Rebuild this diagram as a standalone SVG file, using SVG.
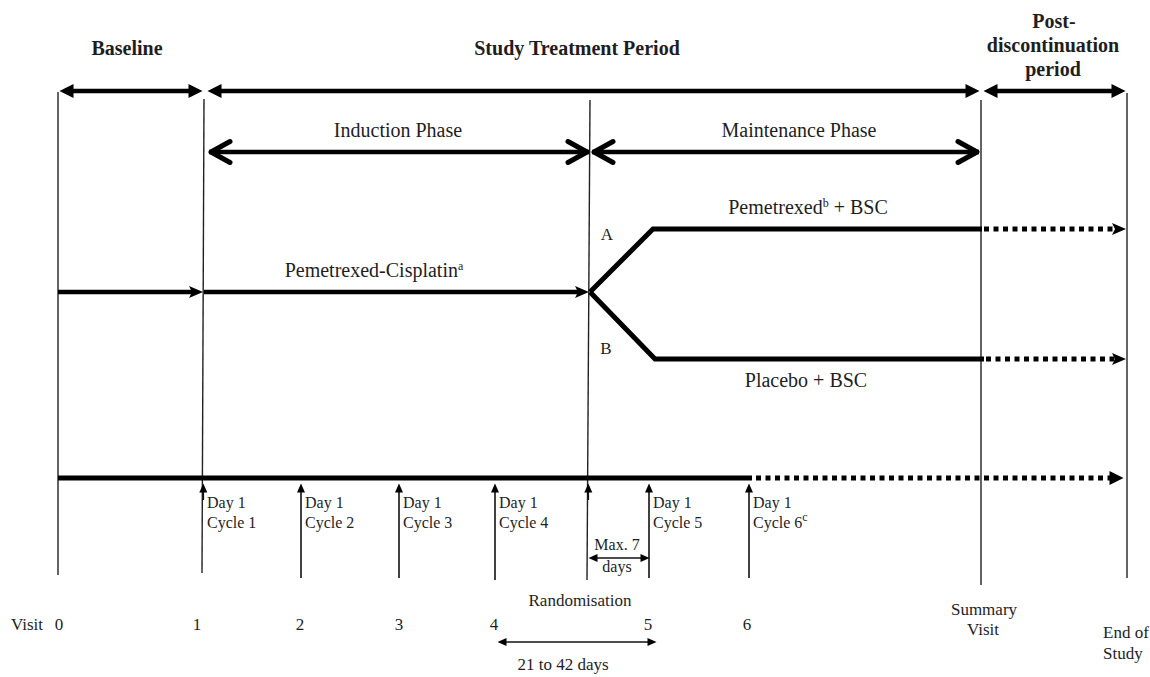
<svg xmlns="http://www.w3.org/2000/svg" width="1150" height="677" viewBox="0 0 1150 677">
<style>
text{font-family:"Liberation Serif","Times New Roman",serif;fill:#1e1e1e}
.h{font-size:20px;font-weight:bold;text-anchor:middle}
.l{font-size:20px;text-anchor:middle}
.s{font-size:16px}
.m{font-size:17px;text-anchor:middle}
.ms{font-size:17px;text-anchor:start}
.sup{font-size:12px}
.v{stroke:#222;stroke-width:1.4;fill:none}
.thick{stroke:#000;stroke-width:4.5;fill:none}
.br{stroke:#000;stroke-width:5;fill:none;stroke-linejoin:miter}
.dot{stroke:#000;stroke-width:5;fill:none;stroke-dasharray:5 4.5}
.thin{stroke:#111;stroke-width:1.6;fill:none}
</style>
<defs>
<marker id="hd" viewBox="0 -7 14 14" markerWidth="14" markerHeight="14" refX="0.5" refY="0" orient="auto-start-reverse" markerUnits="userSpaceOnUse" overflow="visible"><path d="M0,-7 L14,0 L0,7 z" fill="#000"/></marker>
<marker id="chev" viewBox="-24 -14 28 28" markerWidth="28" markerHeight="28" refX="0" refY="0" orient="auto-start-reverse" markerUnits="userSpaceOnUse" overflow="visible"><path d="M-21,-10.5 L-2,0 L-21,10.5" fill="none" stroke="#000" stroke-width="5" stroke-linejoin="round" stroke-linecap="round"/></marker>
<marker id="st" viewBox="-4 -7 16 14" markerWidth="16" markerHeight="14" refX="0" refY="0" orient="auto" markerUnits="userSpaceOnUse" overflow="visible"><path d="M11,0 L-3,-6 L0,0 L-3,6 z" fill="#000"/></marker>
<marker id="sm" viewBox="0 -5 10 10" markerWidth="10" markerHeight="10" refX="0.5" refY="0" orient="auto-start-reverse" markerUnits="userSpaceOnUse" overflow="visible"><path d="M0,-4 L9,0 L0,4 z" fill="#000"/></marker>
</defs>

<g id="headers">
<text class="h" x="127" y="55">Baseline</text>
<text class="h" x="577" y="55">Study Treatment Period</text>
<text class="h" x="1054" y="28">Post-</text>
<text class="h" x="1053" y="52">discontinuation</text>
<text class="h" x="1053" y="76">period</text>
</g>

<g id="phases">
<text class="l" x="398" y="137">Induction Phase</text>
<text class="l" x="799" y="137">Maintenance Phase</text>
</g>

<g id="treatment-labels">
<text class="l" x="374" y="277">Pemetrexed-Cisplatin<tspan class="sup" dy="-7">a</tspan></text>
<text class="l" x="808" y="214">Pemetrexed<tspan class="sup" dy="-7">b</tspan><tspan dy="7"> + BSC</tspan></text>
<text class="l" x="806" y="387">Placebo + BSC</text>
<text class="m" x="607" y="240">A</text>
<text class="m" x="606" y="354">B</text>
</g>

<g id="connectors">
<line class="v" x1="58" y1="92" x2="58" y2="575"/>
<line class="v" x1="204" y1="99" x2="202" y2="573"/>
<line class="v" x1="590" y1="100" x2="587" y2="580"/>
<line class="v" x1="981" y1="100" x2="981" y2="585"/>
<line class="v" x1="1127" y1="93" x2="1127" y2="578"/>

<line class="thick" x1="73" y1="91" x2="189" y2="91" marker-start="url(#hd)" marker-end="url(#hd)"/>
<line class="thick" x1="221" y1="91" x2="966" y2="91" marker-start="url(#hd)" marker-end="url(#hd)"/>
<line class="thick" x1="997" y1="91" x2="1112" y2="91" marker-start="url(#hd)" marker-end="url(#hd)"/>

<line class="thick" x1="209" y1="152" x2="589" y2="152" marker-start="url(#chev)" marker-end="url(#chev)"/>
<line class="thick" x1="592" y1="152" x2="979" y2="152" marker-start="url(#chev)" marker-end="url(#chev)"/>

<line class="thick" x1="58" y1="292" x2="192" y2="292" marker-end="url(#st)"/>
<line class="thick" x1="204" y1="292" x2="578" y2="292" marker-end="url(#st)"/>
<polyline class="br" points="590,292 653,229 982,229"/>
<polyline class="br" points="590,292 655,359 984,359"/>
<line class="dot" x1="984" y1="229" x2="1115" y2="229" marker-end="url(#st)"/>
<line class="dot" x1="986" y1="359" x2="1115" y2="359" marker-end="url(#st)"/>

<line class="br" x1="58" y1="478" x2="752" y2="478"/>
<line class="dot" x1="756" y1="478" x2="1110" y2="478" marker-end="url(#hd)"/>

<line class="thin" x1="203.3" y1="500" x2="203.3" y2="492" marker-end="url(#sm)"/>
<line class="thin" x1="301" y1="578" x2="301" y2="492" marker-end="url(#sm)"/>
<line class="thin" x1="399" y1="578" x2="399" y2="492" marker-end="url(#sm)"/>
<line class="thin" x1="495" y1="580" x2="495" y2="492" marker-end="url(#sm)"/>
<line class="thin" x1="588.3" y1="500" x2="588.3" y2="492" marker-end="url(#sm)"/>
<line class="thin" x1="649" y1="578" x2="649" y2="492" marker-end="url(#sm)"/>
<line class="thin" x1="749" y1="578" x2="749" y2="492" marker-end="url(#sm)"/>

<line class="thin" x1="597" y1="558" x2="641" y2="558" marker-start="url(#sm)" marker-end="url(#sm)"/>
<line class="thin" x1="506" y1="642" x2="648" y2="642" marker-start="url(#sm)" marker-end="url(#sm)"/>
</g>

<g id="cycle-labels">
<text class="s" x="207" y="508">Day 1</text><text class="s" x="207" y="528">Cycle 1</text>
<text class="s" x="305" y="508">Day 1</text><text class="s" x="305" y="528">Cycle 2</text>
<text class="s" x="403" y="508">Day 1</text><text class="s" x="403" y="528">Cycle 3</text>
<text class="s" x="499" y="508">Day 1</text><text class="s" x="499" y="528">Cycle 4</text>
<text class="s" x="653" y="508">Day 1</text><text class="s" x="653" y="528">Cycle 5</text>
<text class="s" x="753" y="508">Day 1</text><text class="s" x="753" y="528">Cycle 6<tspan class="sup" dy="-7">c</tspan></text>
<text class="s" x="617" y="550" text-anchor="middle">Max. 7</text>
<text class="s" x="617" y="572" text-anchor="middle">days</text>
</g>

<g id="visits">
<text class="m" x="580" y="606">Randomisation</text>
<text class="ms" x="11" y="630">Visit</text>
<text class="m" x="59" y="630">0</text>
<text class="m" x="197" y="630">1</text>
<text class="m" x="300" y="630">2</text>
<text class="m" x="399" y="630">3</text>
<text class="m" x="494" y="630">4</text>
<text class="m" x="648" y="630">5</text>
<text class="m" x="747" y="630">6</text>
<text class="m" x="563" y="670">21 to 42 days</text>
<text class="m" x="984" y="615">Summary</text>
<text class="m" x="983" y="635">Visit</text>
<text class="ms" x="1103" y="638">End of</text>
<text class="ms" x="1103" y="659">Study</text>
</g>
</svg>
